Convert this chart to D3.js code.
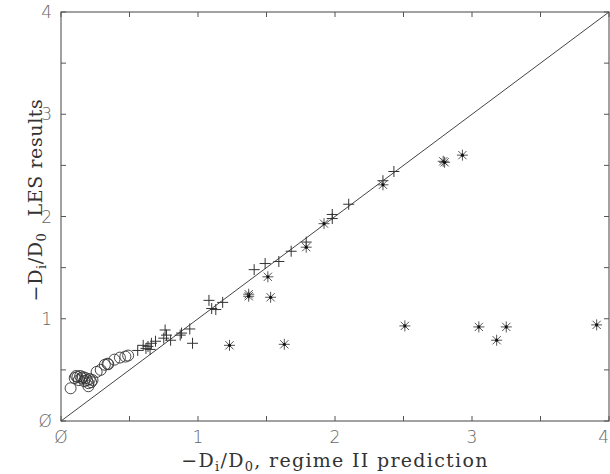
<!DOCTYPE html>
<meta charset="utf-8">
<head>
<style>
body { margin: 0; background: #fff; }
.frame { fill: none; stroke: #444; stroke-width: 1; }
.tick-lbl { font-family: "DejaVu Sans", sans-serif; font-weight: 300; font-size: 17px; fill: #666; }
.title { font-family: "DejaVu Serif", serif; font-size: 19px; fill: #333; letter-spacing: 0.6px; }
.xtitle { letter-spacing: 1.3px; }
</style>
</head>
<body>
<div id="chart"></div>
<script src="https://d3js.org/d3.v7.min.js"></script>
<script>

// data: [prediction, LES result]
var circlePts = [
  [0.07,0.32],[0.10,0.42],[0.11,0.44],[0.12,0.43],[0.13,0.40],[0.14,0.44],
  [0.15,0.42],[0.16,0.43],[0.17,0.39],[0.18,0.42],[0.19,0.40],[0.20,0.37],
  [0.20,0.34],[0.21,0.41],[0.22,0.38],[0.23,0.40],[0.26,0.48],[0.29,0.50],
  [0.32,0.55],[0.34,0.56],[0.345,0.555],[0.39,0.60],[0.43,0.62],[0.47,0.63],
  [0.49,0.64]
];
var plusPts = [
  [0.56,0.69],[0.60,0.74],[0.62,0.71],[0.635,0.73],[0.65,0.70],[0.66,0.76],
  [0.69,0.78],[0.75,0.81],[0.76,0.89],[0.77,0.84],[0.80,0.79],[0.87,0.84],
  [0.88,0.86],[0.94,0.90],[0.96,0.76],[1.08,1.18],[1.10,1.10],[1.13,1.09],
  [1.18,1.16],[1.41,1.48],[1.49,1.54],[1.59,1.56],[1.68,1.66],[1.79,1.75],
  [1.98,2.02],[1.98,1.98],[2.10,2.12],[2.35,2.35],[2.43,2.44]
];
var starPts = [
  [1.92,1.93],[1.79,1.70],[1.51,1.41],[1.37,1.24],[1.37,1.22],[1.53,1.21],
  [1.23,0.74],[1.63,0.75],[2.79,2.54],[2.80,2.53],[2.93,2.60],[2.35,2.31],
  [2.51,0.93],[3.05,0.92],[3.25,0.92],[3.18,0.79],[3.91,0.94]
];
var tickVals = [0, 1, 2, 3, 4];
var tickLabels = ["\u00d8", "1", "2", "3", "4"];
var minorVals = [0.5, 1.5, 2.5, 3.5];

var W = 610, H = 474;
var svg = d3.select("#chart").append("svg")
  .attr("width", W).attr("height", H);

var x = d3.scaleLinear().domain([0, 4]).range([61, 609]);
var y = d3.scaleLinear().domain([0, 4]).range([421, 12]);

// frame
svg.append("rect").attr("class", "frame")
  .attr("x", x(0)).attr("y", y(4))
  .attr("width", x(4) - x(0)).attr("height", y(0) - y(4));

// inward ticks on all sides
var allTicks = tickVals.concat(minorVals);
var tk = svg.append("g").attr("stroke", "#555").attr("stroke-width", 1);
allTicks.forEach(function(v) {
  var len = 5;
  tk.append("line").attr("x1", x(v)).attr("x2", x(v)).attr("y1", y(0)).attr("y2", y(0) - len);
  tk.append("line").attr("x1", x(v)).attr("x2", x(v)).attr("y1", y(4)).attr("y2", y(4) + len);
  tk.append("line").attr("y1", y(v)).attr("y2", y(v)).attr("x1", x(0)).attr("x2", x(0) + len);
  tk.append("line").attr("y1", y(v)).attr("y2", y(v)).attr("x1", x(4)).attr("x2", x(4) - len);
});

// tick labels (last one pulled in so it is not cut at the edge)
svg.selectAll(".xl").data(tickVals).enter().append("text")
  .attr("class", "tick-lbl")
  .attr("x", function(d) { return x(d); })
  .attr("y", 443)
  .attr("text-anchor", function(d) { return d === 4 ? "end" : "middle"; })
  .text(function(d, i) { return tickLabels[i]; });

svg.selectAll(".yl").data(tickVals).enter().append("text")
  .attr("class", "tick-lbl")
  .attr("x", 52)
  .attr("y", function(d) { return y(d) + 6; })
  .attr("text-anchor", "end")
  .text(function(d, i) { return tickLabels[i]; });

// diagonal
svg.append("line")
  .attr("x1", x(0)).attr("y1", y(0)).attr("x2", x(4)).attr("y2", y(4))
  .attr("stroke", "#444").attr("stroke-width", 1);

// circles
svg.append("g").selectAll("circle").data(circlePts).enter().append("circle")
  .attr("cx", function(d) { return x(d[0]); })
  .attr("cy", function(d) { return y(d[1]); })
  .attr("r", 5.5)
  .attr("fill", "none")
  .attr("stroke", "#333")
  .attr("stroke-width", 0.9);

// plus markers
var plus = svg.append("g").attr("stroke", "#333").attr("stroke-width", 1);
plusPts.forEach(function(d) {
  var cx = x(d[0]), cy = y(d[1]), a = 5.5;
  plus.append("line").attr("x1", cx - a).attr("x2", cx + a).attr("y1", cy).attr("y2", cy);
  plus.append("line").attr("x1", cx).attr("x2", cx).attr("y1", cy - a).attr("y2", cy + a);
});

// asterisks
var star = svg.append("g").attr("stroke", "#555").attr("stroke-width", 1);
starPts.forEach(function(d) {
  var cx = x(d[0]), cy = y(d[1]), a = 5.5, b = a * 0.75;
  star.append("line").attr("x1", cx - a).attr("x2", cx + a).attr("y1", cy).attr("y2", cy);
  star.append("line").attr("x1", cx).attr("x2", cx).attr("y1", cy - a).attr("y2", cy + a);
  star.append("line").attr("x1", cx - b).attr("x2", cx + b).attr("y1", cy - b).attr("y2", cy + b);
  star.append("line").attr("x1", cx - b).attr("x2", cx + b).attr("y1", cy + b).attr("y2", cy - b);
  star.append("circle").attr("cx", cx).attr("cy", cy).attr("r", 1.6)
    .attr("fill", "#111").attr("stroke", "none");
});

// axis titles
var xt = svg.append("text").attr("class", "title xtitle")
  .attr("x", 335).attr("y", 467).attr("text-anchor", "middle");
xt.append("tspan").text("\u2212D");
xt.append("tspan").attr("font-size", "13px").attr("dy", 4).text("i");
xt.append("tspan").attr("dy", -4).text("/D");
xt.append("tspan").attr("font-size", "13px").attr("dy", 4).text("0");
xt.append("tspan").attr("dy", -4).text(", regime II prediction");

var yt = svg.append("text").attr("class", "title")
  .attr("transform", "translate(42,200) rotate(-90)")
  .attr("text-anchor", "middle");
yt.append("tspan").text("\u2212D");
yt.append("tspan").attr("font-size", "13px").attr("dy", 4).text("i");
yt.append("tspan").attr("dy", -4).text("/D");
yt.append("tspan").attr("font-size", "13px").attr("dy", 4).text("0");
yt.append("tspan").attr("dy", -4).attr("dx", 16).text("LES results");

</script>
</body>
</html>
